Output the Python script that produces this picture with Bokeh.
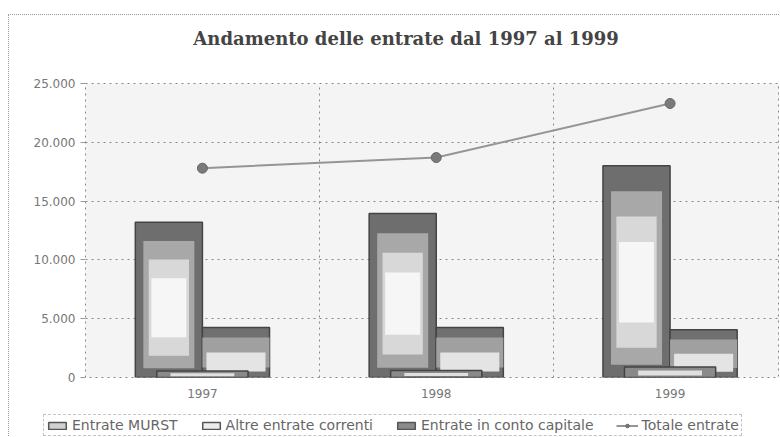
from bokeh.plotting import figure
from bokeh.layouts import column
from bokeh.models import FixedTicker, Legend, LegendItem, ColumnDataSource, Label
from bokeh.embed import file_html
from bokeh.resources import INLINE

# ---- data ----
title_text = "Andamento delle entrate dal 1997 al 1999"
years = ["1997", "1998", "1999"]
entrate_murst = [13200, 13950, 18000]
altre_correnti = [4250, 4250, 4050]
conto_capitale = [550, 600, 900]
totale = [17800, 18700, 23300]
y_ticks = [0, 5000, 10000, 15000, 20000, 25000]
y_tick_labels = ["0", "5.000", "10.000", "15.000", "20.000", "25.000"]
series_labels = ["Entrate MURST", "Altre entrate correnti",
                 "Entrate in conto capitale", "Totale entrate"]

centers = [i + 0.5 for i in range(len(years))]

# ---- title strip ----
p0 = figure(width=770, height=45, output_backend="svg", toolbar_location=None,
            x_axis_type=None, y_axis_type=None, x_range=(0, 1), y_range=(0, 1),
            min_border=0, min_border_left=0, min_border_right=0,
            min_border_top=0, min_border_bottom=0)
p0.outline_line_color = None
p0.border_fill_color = "white"
p0.background_fill_color = "white"
p0.add_layout(Label(x=0.462, y=0.49, text=title_text, text_align="center",
                    text_baseline="middle", text_font="DejaVu Serif",
                    text_font_size="18px", text_font_style="bold", text_color="#444444"))

# ---- main chart ----
p = figure(width=770, height=350, output_backend="svg", toolbar_location=None,
           x_range=(0, 2.968), y_range=(0, 25000),
           min_border_left=76, min_border_right=0, min_border_top=23, min_border_bottom=33)

p.background_fill_color = "#f4f4f4"
p.border_fill_color = "white"
p.outline_line_color = "#888888"
p.outline_line_dash = "dotted"

p.xgrid.ticker = FixedTicker(ticks=[0, 1, 2, 3])
p.xgrid.grid_line_color = "#888888"
p.xgrid.grid_line_dash = "dotted"
p.ygrid.ticker = FixedTicker(ticks=y_ticks)
p.ygrid.grid_line_color = "#888888"
p.ygrid.grid_line_dash = "dotted"

p.yaxis.ticker = FixedTicker(ticks=y_ticks)
p.yaxis.major_label_overrides = {t: l for t, l in zip(y_ticks, y_tick_labels)}
p.xaxis.ticker = FixedTicker(ticks=centers)
p.xaxis.major_label_overrides = {c: y for c, y in zip(centers, years)}
for ax in (p.xaxis, p.yaxis):
    ax.axis_line_color = None
    ax.major_tick_line_color = "#999999"
    ax.minor_tick_line_color = None
    ax.major_tick_in = 0
    ax.major_label_text_font = "DejaVu Sans"
    ax.major_label_text_font_size = "12px"
    ax.major_label_text_color = "#777777"
p.xaxis.major_tick_line_color = None
p.yaxis.major_tick_out = 5


def shaded_bars(fig, lefts, rights, tops, layers):
    rs = []
    for k, (fill, fx, ft, fb) in enumerate(layers):
        l2, r2, t2, b2 = [], [], [], []
        for l, r, t in zip(lefts, rights, tops):
            w = r - l
            l2.append(l + w * fx)
            r2.append(r - w * fx)
            t2.append(t - t * ft)
            b2.append(t * fb)
        src = ColumnDataSource(dict(left=l2, right=r2, top=t2, bottom=b2))
        rs.append(fig.quad(left="left", right="right", top="top", bottom="bottom", source=src,
                           fill_color=fill, line_color="#444444" if k == 0 else None,
                           line_width=1.5))
    return rs[0]

w1 = 0.287
shaded_bars(p, [c - w1 for c in centers], centers, entrate_murst,
            [("#6e6e6e", 0, 0, 0), ("#a8a8a8", 0.12, 0.12, 0.06),
             ("#d8d8d8", 0.2, 0.24, 0.14), ("#f6f6f6", 0.24, 0.36, 0.26)])
shaded_bars(p, centers, [c + w1 for c in centers], altre_correnti,
            [("#707070", 0, 0, 0), ("#a0a0a0", 0.0, 0.2, 0.2),
             ("#e4e4e4", 0.06, 0.5, 0.12)])
shaded_bars(p, [c - 0.195 for c in centers], [c + 0.195 for c in centers], conto_capitale,
            [("#8a8a8a", 0, 0, 0), ("#e0e0e0", 0.15, 0.35, 0.2)])

src_line = ColumnDataSource(dict(x=centers, y=totale))
p.line("x", "y", source=src_line, line_color="#959595", line_width=2)
p.scatter("x", "y", source=src_line, size=10, marker="circle",
          fill_color="#7a7a7a", line_color="#666666")

# ---- legend strip (its own small figure; proxy glyphs sit outside its visible range) ----
p2 = figure(width=736, height=26, output_backend="svg", toolbar_location=None,
            x_axis_type=None, y_axis_type=None, x_range=(0, 1), y_range=(0, 1),
            min_border=0, min_border_left=0, min_border_right=0,
            min_border_top=0, min_border_bottom=0)
p2.outline_line_color = None
p2.border_fill_color = "white"
p2.background_fill_color = "white"

proxy = dict(left=[-3], right=[-2], top=[-2], bottom=[-3])
r1 = p2.quad(source=ColumnDataSource(proxy), left="left", right="right", top="top", bottom="bottom",
             fill_color="#d0d0d0", line_color="#555555", line_width=1.5)
r2 = p2.quad(source=ColumnDataSource(proxy), left="left", right="right", top="top", bottom="bottom",
             fill_color="#ececec", line_color="#555555", line_width=1.5)
r3 = p2.quad(source=ColumnDataSource(proxy), left="left", right="right", top="top", bottom="bottom",
             fill_color="#8a8a8a", line_color="#555555", line_width=1.5)
le = ColumnDataSource(dict(x=[-3, -2], y=[-3, -3]))
r4 = p2.line("x", "y", source=le, line_color="#959595", line_width=2)
r5 = p2.scatter("x", "y", source=le, size=6, fill_color="#7a7a7a", line_color="#666666")

legend = Legend(items=[
    LegendItem(label=series_labels[0], renderers=[r1]),
    LegendItem(label=series_labels[1], renderers=[r2]),
    LegendItem(label=series_labels[2], renderers=[r3]),
    LegendItem(label=series_labels[3], renderers=[r4, r5]),
], orientation="horizontal", location="bottom_left")
legend.label_text_font = "DejaVu Sans"
legend.label_text_font_size = "14px"
legend.label_text_color = "#666666"
legend.border_line_color = "#888888"
legend.border_line_dash = "dotted"
legend.background_fill_color = "white"
legend.padding = 2
legend.spacing = 22
legend.margin = 0
legend.glyph_width = 22
legend.glyph_height = 9
legend.label_standoff = 4
legend.label_height = 14
p2.add_layout(legend, "center")

layout = column(p0, p, column(p2, margin=(0, 0, 0, 34)), spacing=0, margin=(14, 0, 0, 8),
                styles={"border-left": "1px dotted #999999", "border-top": "1px dotted #999999"})

open("out.html", "w").write(file_html(layout, INLINE))
